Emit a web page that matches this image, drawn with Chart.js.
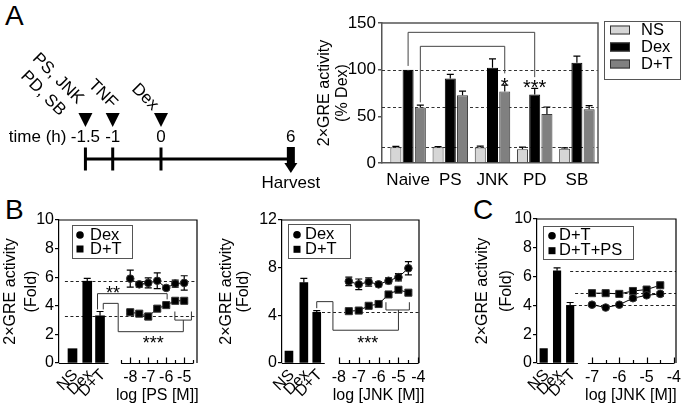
<!DOCTYPE html>
<html><head><meta charset="utf-8">
<script src="https://cdn.jsdelivr.net/npm/chart.js@4.4.1/dist/chart.umd.min.js"></script>
<style>
html,body{margin:0;padding:0;background:#fff;}
body{width:683px;height:406px;position:relative;overflow:hidden;font-family:'Liberation Sans',Arial,sans-serif;}
canvas{position:absolute;}
.tag{position:absolute;font-size:28px;line-height:28px;color:#000;}
</style></head><body>
<div class="tag" style="left:5px;top:2px">A</div>
<div class="tag" style="left:5px;top:196px">B</div>
<div class="tag" style="left:473px;top:196px">C</div>
<canvas id="cT" width="320" height="200" style="left:0;top:0"></canvas>
<canvas id="cA" width="383" height="200" style="left:300px;top:0"></canvas>
<canvas id="cB1" width="205" height="206" style="left:0;top:200px"></canvas>
<canvas id="cB2" width="215" height="206" style="left:210px;top:200px"></canvas>
<canvas id="cC" width="223" height="206" style="left:460px;top:200px"></canvas>
<script>
// ---------------- DATA ----------------
// Panel A timeline (schematic)
const timelineTimes = ['-1.5', '-1', '0', '6'];
const timelineSlots = [0, 1, 2.77, 7.53];
const timelineEvents = [['PS, JNK', 'PD, SB'], ['TNF'], ['Dex']];

// Panel A bars (% Dex)
const groupsA = ['Naive', 'PS', 'JNK', 'PD', 'SB'];
const nsA = [17, 17, 16.5, 14.8, 15.3];
const nsErrA = [0.8, 0.6, 1.5, 2.2, 1.0];
const dexA = [100, 90.5, 102, 73.5, 107.5];
const dexErrA = [0, 4.5, 9.5, 6.5, 7];
const dtA = [59.5, 72.5, 76.5, 52.5, 57.5];
const dtErrA = [2.5, 4.5, 7, 7.5, 4];
const refLinesA = [100, 59.5, 17];
const ticksA = [0, 50, 100, 150];

// Panel B (PS)
const barCats = ['NS', 'Dex', 'D+T'];
const psBars = [1.0, 5.72, 3.3];
const psBarErr = [0, 0.2, 0.3];
const psDose = [-8, -7.5, -7, -6.5, -6, -5.5, -5];
const psDex = [5.9, 5.5, 5.6, 5.75, 5.25, 5.55, 5.6];
const psDexErr = [0.6, 0.2, 0.35, 0.55, 0.12, 0.25, 0.5];
const psDT = [3.55, 3.45, 3.25, 3.8, 4.05, 4.35, 4.35];
const psDTErr = [0.1, 0.1, 0.22, 0.1, 0.1, 0.1, 0.1];
const psTickLabels = ['-8', '-7', '-6', '-5'];
const ticksB = [0, 2, 4, 6, 8, 10];

// Panel B (JNK)
const jnkBars = [1.0, 6.75, 4.25];
const jnkBarErr = [0, 0.35, 0.15];
const jnkDose = [-7.5, -7, -6.5, -6, -5.5, -5, -4.5];
const jnkDex = [6.85, 6.6, 6.8, 6.6, 6.9, 7.2, 7.95];
const jnkDexErr = [0.35, 0.45, 0.35, 0.2, 0.25, 0.3, 0.55];
const jnkDT = [4.35, 4.4, 4.8, 4.95, 5.75, 6.15, 5.9];
const jnkDTErr = [0.1, 0.1, 0.1, 0.1, 0.1, 0.1, 0.1];
const jnkTickLabels = ['-8', '-7', '-6', '-5', '-4'];
const ticksJ = [0, 4, 8, 12];

// Panel C
const cBars = [1.0, 6.4, 4.0];
const cBarErr = [0, 0.2, 0.2];
const cDose = [-7, -6.5, -6, -5.5, -5, -4.5];
const cDT = [4.05, 3.85, 4.05, 4.5, 4.7, 4.8];
const cDTErr = [0.1, 0.1, 0.1, 0.15, 0.15, 0.15];
const cDTPS = [4.85, 4.85, 4.8, 5.0, 5.1, 5.4];
const cDTPSErr = [0.1, 0.1, 0.1, 0.15, 0.15, 0.15];
const cRefLines = [6.4, 4.85, 4.05];
const cTickLabels = ['-7', '-6', '-5', '-4'];

// ---------------- LAYOUT (positions, not data) ----------------
const layB1 = {barX: [-11.21, -10.39, -9.68], xmin: -11.96, xmax: -4.29};
const layB2 = {barX: [-10.515, -9.765, -9.115], xmin: -10.865, xmax: -3.965};
const layC  = {barX: [-8.77, -8.28, -7.80], xmin: -9.015, xmax: -3.923};

const FONT = "'Liberation Sans', Arial, Helvetica, sans-serif";
Chart.defaults.font.family = FONT;
Chart.defaults.color = '#000';

function yPix(chart, v) { return chart.scales.y.getPixelForValue(v); }
function xPix(chart, v) { return chart.scales.x.getPixelForValue(v); }
function ptX(chart, p) {
  return p.ds !== undefined ? chart.getDatasetMeta(p.ds).data[p.i].x : xPix(chart, p.x);
}
function drawStars(ctx, text, x, yc, size) {
  ctx.font = size + 'px ' + FONT; ctx.textAlign = 'center'; ctx.textBaseline = 'alphabetic';
  ctx.fillStyle = '#000';
  ctx.fillText(text, x, yc + 0.58 * size);
}

const overlay = {
  id: 'overlay',
  afterLayout(chart) {
    const o = chart.options.plugins.overlay;
    if (o && o.xShift) { const s = chart.scales.x; s._startPixel += o.xShift; s._length -= o.xShift; }
  },
  beforeDatasetsDraw(chart) {
    const o = chart.options.plugins.overlay; if (!o) return;
    const ctx = chart.ctx, ca = chart.chartArea;
    ctx.save();
    ctx.lineWidth = 1; ctx.strokeStyle = o.dashColor || '#222'; ctx.setLineDash([3, 2.5]);
    (o.refLines || []).forEach(r => {
      const y = Math.round(yPix(chart, r.y)) + 0.5;
      const x0 = r.from !== undefined ? xPix(chart, r.from) : ca.left;
      ctx.beginPath(); ctx.moveTo(x0, y); ctx.lineTo(ca.right, y); ctx.stroke();
    });
    ctx.setLineDash([]);
    chart.data.datasets.forEach((ds, di) => {
      if (!ds.errors) return;
      const meta = chart.getDatasetMeta(di);
      ctx.strokeStyle = '#000'; ctx.lineWidth = ds.errWidth || 1.2;
      meta.data.forEach((el, i) => {
        const e = ds.errors[i]; if (!e) return;
        const raw = ds.data[i]; const v = typeof raw === 'object' ? raw.y : raw;
        const top = yPix(chart, v + e);
        const bot = ds.errMode === 'up' ? el.y : yPix(chart, v - e);
        const cw = ds.capHalf || 3.5;
        ctx.beginPath();
        ctx.moveTo(el.x, bot); ctx.lineTo(el.x, top);
        ctx.moveTo(el.x - cw, top); ctx.lineTo(el.x + cw, top);
        if (ds.errMode !== 'up') { ctx.moveTo(el.x - cw, bot); ctx.lineTo(el.x + cw, bot); }
        ctx.stroke();
      });
    });
    ctx.restore();
  },
  afterDraw(chart) {
    const o = chart.options.plugins.overlay; if (!o) return;
    const ctx = chart.ctx, ca = chart.chartArea;
    ctx.save();
    if (o.frame) {
      ctx.strokeStyle = o.frame.color; ctx.lineWidth = o.frame.width;
      ctx.beginPath(); ctx.moveTo(ca.left, ca.top); ctx.lineTo(ca.right, ca.top); ctx.lineTo(ca.right, ca.bottom); ctx.stroke();
    }
    (o.brackets || []).forEach(b => {
      ctx.strokeStyle = o.bracketColor || '#333'; ctx.lineWidth = 1;
      ctx.beginPath();
      b.forEach((p, k) => { const x = ptX(chart, p), y = yPix(chart, p.y); if (k) ctx.lineTo(x, y); else ctx.moveTo(x, y); });
      ctx.stroke();
    });
    (o.stars || []).forEach(s => drawStars(ctx, s.text, ptX(chart, s), yPix(chart, s.y), s.size || 18));
    if (o.logAxis) {
      const L = o.logAxis; const y0 = Math.round(yPix(chart, 0)) + 0.5;
      ctx.strokeStyle = '#000'; ctx.lineWidth = 1.2;
      const bm = chart.getDatasetMeta(0).data; const last = bm[bm.length - 1];
      ctx.beginPath();
      ctx.moveTo(ca.left, y0); ctx.lineTo(last.x + last.width / 2 + 4, y0);
      ctx.moveTo(xPix(chart, L.from), y0); ctx.lineTo(xPix(chart, L.to), y0);
      for (let t = L.tickStart; t <= L.to + 1e-9; t += 0.5) {
        const x = Math.round(xPix(chart, t)) + 0.5;
        const major = Math.abs(t - Math.round(t)) < 1e-9;
        ctx.moveTo(x, y0); ctx.lineTo(x, y0 - (major ? 6 : 3.5));
      }
      ctx.stroke();
      ctx.fillStyle = '#000';
      ctx.font = '16px ' + FONT; ctx.textAlign = 'center'; ctx.textBaseline = 'middle';
      L.labels.forEach(l => ctx.fillText(l, xPix(chart, Number(l)), y0 + 14));
      ctx.fillText(L.title, xPix(chart, (L.from + L.to) / 2), y0 + 32);
      ctx.textAlign = 'right';
      o.barLabels.forEach((t, i) => {
        const el = bm[i];
        ctx.save(); ctx.translate(el.x + 3, y0 + 9); ctx.rotate(-Math.PI / 4); ctx.fillText(t, 0, 0); ctx.restore();
      });
    }
    if (o.legend) {
      const g = o.legend;
      const bx = (g.fromRight ? ca.right : ca.left) + g.dx, by = ca.top + g.dy;
      ctx.strokeStyle = g.border; ctx.lineWidth = 1;
      ctx.strokeRect(Math.round(bx) + 0.5, Math.round(by) + 0.5, g.w, g.h);
      ctx.font = g.font + 'px ' + FONT; ctx.textAlign = 'left'; ctx.textBaseline = 'middle';
      g.items.forEach((di, k) => {
        const ds = chart.data.datasets[di];
        const cy = by + g.row0 + k * g.step;
        const mx = bx + g.markDx;
        if (g.kind === 'swatch') {
          ctx.fillStyle = ds.backgroundColor; ctx.fillRect(mx, cy - 4.5, 20, 9);
          ctx.strokeStyle = '#333'; ctx.strokeRect(mx + 0.5, cy - 4.5 + 0.5, 19, 8);
        } else if (ds.pointStyle === 'circle') {
          ctx.fillStyle = '#000'; ctx.beginPath(); ctx.arc(mx, cy, 3.8, 0, Math.PI * 2); ctx.fill();
        } else {
          ctx.fillStyle = '#000'; ctx.fillRect(mx - 3.5, cy - 3.5, 7, 7);
        }
        ctx.fillStyle = '#000';
        ctx.fillText(ds.label, bx + g.textDx, cy);
      });
    }
    ctx.restore();
  }
};

const timelinePlugin = {
  id: 'timelineDraw',
  afterDraw(chart) {
    const ctx = chart.ctx, xs = chart.scales.x, y0 = chart.scales.y.getPixelForValue(0);
    ctx.save(); ctx.fillStyle = '#000';
    ctx.font = '17px ' + FONT; ctx.textAlign = 'center'; ctx.textBaseline = 'middle';
    timelineTimes.forEach((t, i) => ctx.fillText(t, xs.getPixelForValue(timelineSlots[i]), y0 - 22));
    ctx.textAlign = 'right';
    ctx.fillText('time (h)', xs.getPixelForValue(timelineSlots[0]) - 19, y0 - 22);
    // event triangles + rotated labels
    const offs = [[-35, -73], [-10, -65], [-16, -62]];
    timelineEvents.forEach((lines, i) => {
      const x = xs.getPixelForValue(timelineSlots[i]);
      ctx.beginPath(); ctx.moveTo(x - 7, y0 - 46); ctx.lineTo(x + 7, y0 - 46); ctx.lineTo(x, y0 - 32); ctx.closePath(); ctx.fill();
      ctx.save(); ctx.translate(x + offs[i][0], y0 + offs[i][1]); ctx.rotate(Math.PI / 4);
      ctx.textAlign = 'center';
      lines.forEach((l, k) => ctx.fillText(l, 0, (k - (lines.length - 1) / 2) * 21));
      ctx.restore();
    });
    // harvest arrow
    const xh = xs.getPixelForValue(timelineSlots[3]);
    ctx.fillRect(xh - 4, y0 - 12, 8, 17);
    ctx.beginPath(); ctx.moveTo(xh - 6.5, y0 + 4); ctx.lineTo(xh + 6.5, y0 + 4); ctx.lineTo(xh, y0 + 14); ctx.closePath(); ctx.fill();
    ctx.textAlign = 'center';
    ctx.fillText('Harvest', xh, y0 + 24);
    ctx.restore();
  }
};

const common = {responsive: false, animation: false, devicePixelRatio: 1, events: []};

// ---------- Timeline ----------
new Chart(document.getElementById('cT'), {
  type: 'line',
  data: {datasets: [
    {data: [{x: timelineSlots[0], y: 0}, {x: timelineSlots[3], y: 0}], borderColor: '#000', borderWidth: 3, pointRadius: 0},
    {data: timelineSlots.slice(0, 3).map(s => ({x: s, y: 0})), showLine: false, pointStyle: 'line', rotation: 90,
     pointRadius: 11.5, borderWidth: 3, borderColor: '#000'}
  ]},
  options: Object.assign({}, common, {
    layout: {padding: {top: 140, bottom: 22, left: 0, right: 0}},
    plugins: {legend: {display: false}, tooltip: {enabled: false}},
    scales: {x: {type: 'linear', display: false, min: -2.6, max: 8.067}, y: {display: false, min: -1, max: 1}}
  }),
  plugins: [timelinePlugin]
});

// ---------- Panel A bars ----------
new Chart(document.getElementById('cA'), {
  type: 'bar',
  data: {labels: groupsA, datasets: [
    {label: 'NS', data: nsA, errors: nsErrA, errMode: 'up', backgroundColor: '#d6d6d6', borderColor: '#3a3a3a', borderWidth: 1},
    {label: 'Dex', data: dexA, errors: dexErrA, errMode: 'up', backgroundColor: '#000', borderColor: '#000', borderWidth: 1},
    {label: 'D+T', data: dtA, errors: dtErrA, errMode: 'up', backgroundColor: '#808080', borderColor: '#3a3a3a', borderWidth: 1}
  ]},
  options: Object.assign({}, common, {
    layout: {padding: {left: 0, right: 85, top: 23, bottom: 0}},
    datasets: {bar: {categoryPercentage: 0.87, barPercentage: 0.9}},
    plugins: {
      legend: {display: false}, tooltip: {enabled: false},
      overlay: {
        xShift: 5,
        dashColor: '#333',
        refLines: refLinesA.map(v => ({y: v})),
        frame: {color: '#555', width: 1.5},
        bracketColor: '#444',
        brackets: [
          [{ds: 1, i: 0, y: 104}, {ds: 1, i: 0, y: 140}, {ds: 1, i: 3, y: 140}, {ds: 1, i: 3, y: 92}],
          [{ds: 2, i: 0, y: 65}, {ds: 2, i: 0, y: 125}, {ds: 2, i: 2, y: 125}, {ds: 2, i: 2, y: 96}]
        ],
        stars: [{ds: 2, i: 2, y: 89, text: '*', size: 20}, {ds: 1, i: 3, y: 86, text: '***', size: 20}],
        legend: {fromRight: true, dx: 6, dy: -2, w: 76, h: 58, row0: 9, step: 17, markDx: 6, textDx: 37,
                 font: 16.5, border: '#555', kind: 'swatch', items: [0, 1, 2]}
      }
    },
    scales: {
      x: {grid: {display: false, drawTicks: false}, border: {display: true, color: '#555', width: 1.5},
          ticks: {font: {size: 17}, padding: 7, color: '#000', maxRotation: 0, minRotation: 0, autoSkip: false},
          afterFit(s) { s.height = 37; }},
      y: {min: 0, max: 150, afterBuildTicks(s) { s.ticks = ticksA.map(v => ({value: v})); },
          ticks: {font: {size: 17}, padding: 2, color: '#000'},
          grid: {drawOnChartArea: false, tickLength: 4, color: '#555', lineWidth: 1.5},
          border: {color: '#555', width: 1.5},
          title: {display: true, text: ['2×GRE activity', '(% Dex)'], color: '#000',
                  font: {size: 16, lineHeight: 1.125}, padding: {top: 16, bottom: 0}},
          afterFit(s) { s.width = 82; }}
    }
  }),
  plugins: [overlay]
});

// ---------- Panels B / C builder ----------
function doseChart(id, cfg) {
  return new Chart(document.getElementById(id), {
    type: 'bar',
    data: {datasets: [
      {type: 'bar', label: 'bars', data: cfg.bars.map((v, i) => ({x: cfg.lay.barX[i], y: v})), errors: cfg.barErr,
       errMode: 'up', backgroundColor: '#000', borderWidth: 0, barThickness: cfg.barW, capHalf: 3.5},
      {type: 'line', label: cfg.s1.label, data: cfg.dose.map((d, i) => ({x: d, y: cfg.s1.y[i]})), errors: cfg.s1.err,
       pointStyle: cfg.s1.style, pointRadius: cfg.s1.r, borderColor: '#000', backgroundColor: '#000', borderWidth: 1,
       pointBackgroundColor: '#000', pointBorderColor: '#333', pointBorderWidth: 1, capHalf: 3.5},
      {type: 'line', label: cfg.s2.label, data: cfg.dose.map((d, i) => ({x: d, y: cfg.s2.y[i]})), errors: cfg.s2.err,
       pointStyle: cfg.s2.style, pointRadius: cfg.s2.r, borderColor: '#000', backgroundColor: '#000', borderWidth: 1,
       pointBackgroundColor: '#000', pointBorderColor: '#333', pointBorderWidth: 1, capHalf: 3.5}
    ]},
    options: Object.assign({}, common, {
      layout: {padding: cfg.padding},
      plugins: {legend: {display: false}, tooltip: {enabled: false}, overlay: cfg.overlay},
      scales: {
        x: {type: 'linear', display: false, offset: false, min: cfg.lay.xmin, max: cfg.lay.xmax},
        y: {min: 0, max: cfg.yTicks[cfg.yTicks.length - 1], afterBuildTicks(s) { s.ticks = cfg.yTicks.map(v => ({value: v})); },
            ticks: {font: {size: 16}, padding: 1, color: '#000'},
            grid: {drawOnChartArea: false, tickLength: 4, color: '#000', lineWidth: 1.2},
            border: {color: '#000', width: 1.2},
            title: {display: true, text: ['2×GRE activity', '(Fold)'], color: '#000',
                    font: {size: 16, lineHeight: cfg.titleLH}, padding: {top: cfg.titlePad, bottom: 0}},
            afterFit(s) { s.width = cfg.yWidth; }}
      }
    }),
    plugins: [overlay]
  });
}

doseChart('cB1', {
  lay: layB1, bars: psBars, barErr: psBarErr, barW: 9, dose: psDose, yTicks: ticksB,
  s1: {label: 'Dex', y: psDex, err: psDexErr, style: 'circle', r: 3.8},
  s2: {label: 'D+T', y: psDT, err: psDTErr, style: 'rect', r: 5},
  padding: {left: 0, right: 8, top: 20, bottom: 43}, yWidth: 59, titleLH: 1.3, titlePad: 0,
  overlay: {
    refLines: [{y: psBars[1], from: -11.63}, {y: psBars[2], from: -11.63}],
    frame: {color: '#000', width: 1.2},
    brackets: [
      [{x: -9.82, y: 3.75}, {x: -9.82, y: 4.85}, {x: -5.95, y: 4.85}, {x: -5.95, y: 4.45}],
      [{x: -9.5, y: 3.75}, {x: -9.5, y: 4.17}, {x: -8.67, y: 4.17}, {x: -8.67, y: 2.19}, {x: -5.05, y: 2.19}, {x: -5.05, y: 3.0}],
      [{x: -5.52, y: 3.6}, {x: -5.52, y: 3.0}, {x: -4.6, y: 3.0}, {x: -4.6, y: 3.6}]
    ],
    stars: [{x: -8.96, y: 5.22, text: '**'}, {x: -6.72, y: 1.73, text: '***'}],
    logAxis: {from: -8.5, to: -4.5, tickStart: -8.5, labels: psTickLabels, title: 'log [PS [M]]'},
    barLabels: barCats,
    legend: {dx: 13, dy: 5, w: 60, h: 33, row0: 10, step: 14, markDx: 8, textDx: 18, font: 16.5, border: '#555', items: [1, 2]}
  }
});

doseChart('cB2', {
  lay: layB2, bars: jnkBars, barErr: jnkBarErr, barW: 8, dose: jnkDose, yTicks: ticksJ,
  s1: {label: 'Dex', y: jnkDex, err: jnkDexErr, style: 'circle', r: 3.8},
  s2: {label: 'D+T', y: jnkDT, err: jnkDTErr, style: 'rect', r: 5},
  padding: {left: 0, right: 5, top: 20, bottom: 43}, yWidth: 72, titleLH: 1.06, titlePad: 8.5,
  overlay: {
    refLines: [{y: jnkBars[2], from: -8.85}],
    frame: {color: '#000', width: 1.2},
    brackets: [
      [{x: -9.115, y: 4.6}, {x: -9.115, y: 5.15}, {x: -8.3, y: 5.15}, {x: -8.3, y: 2.75}, {x: -5.0, y: 2.75}, {x: -5.0, y: 4.45}],
      [{x: -5.63, y: 5.1}, {x: -5.63, y: 4.45}, {x: -4.45, y: 4.45}, {x: -4.45, y: 5.1}]
    ],
    stars: [{x: -6.55, y: 2.07, text: '***'}],
    logAxis: {from: -8, to: -4, tickStart: -8, labels: jnkTickLabels, title: 'log [JNK [M]]'},
    barLabels: barCats,
    legend: {dx: 6, dy: 4.3, w: 62, h: 34, row0: 10.5, step: 14.5, markDx: 9, textDx: 17, font: 16.5, border: '#555', items: [1, 2]}
  }
});

doseChart('cC', {
  lay: layC, bars: cBars, barErr: cBarErr, barW: 7.5, dose: cDose, yTicks: ticksB,
  s1: {label: 'D+T', y: cDT, err: cDTErr, style: 'circle', r: 3.8},
  s2: {label: 'D+T+PS', y: cDTPS, err: cDTPSErr, style: 'rect', r: 5},
  padding: {left: 0, right: 7, top: 19, bottom: 43}, yWidth: 77, titleLH: 1.47, titlePad: 11.25,
  overlay: {
    refLines: [{y: cRefLines[0], from: -7.8}, {y: cRefLines[1], from: -7.62}, {y: cRefLines[2], from: -7.68}],
    frame: {color: '#000', width: 1.2},
    logAxis: {from: -7.15, to: -4, tickStart: -7, labels: cTickLabels, title: 'log [JNK [M]]'},
    barLabels: barCats,
    legend: {dx: 6, dy: 6.7, w: 90, h: 33, row0: 10, step: 15, markDx: 9, textDx: 16, font: 16.5, border: '#555', items: [1, 2]}
  }
});
</script>
</body></html>
